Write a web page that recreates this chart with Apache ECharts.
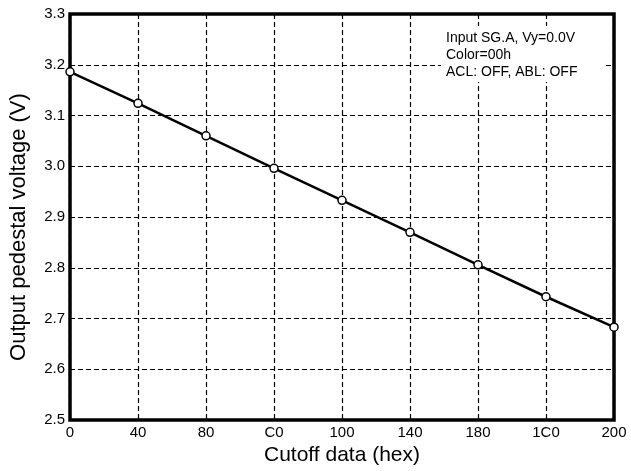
<!DOCTYPE html>
<html>
<head>
<meta charset="utf-8">
<script src="https://cdn.jsdelivr.net/npm/echarts@6/dist/echarts.min.js"></script>
<style>
  html, body { margin: 0; padding: 0; background: #fff; }
  #main { width: 631px; height: 471px; }
</style>
</head>
<body>
<div id="main"></div>
<script>
// cutoff data (hex) and measured pedestal voltage
var cutoffCodes = ['0', '40', '80', 'C0', '100', '140', '180', '1C0', '200'];
var pedestalVolts = [3.186, 3.124, 3.060, 2.996, 2.933, 2.870, 2.806, 2.743, 2.683];
var noteLines = ['Input SG.A, Vy=0.0V', 'Color=00h', 'ACL: OFF, ABL: OFF'];

var myChart = echarts.init(document.getElementById('main'));
var font = 'Liberation Sans, Arial, sans-serif';
var gridDash = { color: '#000', width: 1.2, type: [5, 3] };

var option = {
  animation: false,
  backgroundColor: '#fff',
  grid: {
    left: 70, right: 17, top: 14, bottom: 48,
    show: true,
    borderColor: '#000',
    borderWidth: 3.5,
    backgroundColor: 'transparent'
  },
  xAxis: {
    type: 'category',
    data: cutoffCodes,
    boundaryGap: false,
    name: 'Cutoff data (hex)',
    nameLocation: 'middle',
    nameGap: 23,
    nameTextStyle: { color: '#000', fontSize: 21, fontFamily: font },
    axisLine: { show: false },
    axisTick: { show: false },
    axisLabel: { color: '#000', fontSize: 15, fontFamily: font, margin: 5 },
    splitLine: { show: true, lineStyle: gridDash }
  },
  yAxis: {
    type: 'value',
    min: 2.5,
    max: 3.3,
    interval: 0.1,
    name: 'Output pedestal voltage (V)',
    nameLocation: 'middle',
    nameGap: 40,
    nameTextStyle: { color: '#000', fontSize: 22, fontFamily: font, padding: [0, 20, 0, 0] },
    axisLine: { show: false },
    axisTick: { show: false },
    axisLabel: {
      color: '#000', fontSize: 15, fontFamily: font, margin: 5,
      formatter: function (v) { return v.toFixed(1); }
    },
    splitLine: { show: true, lineStyle: gridDash }
  },
  graphic: [
    {
      type: 'rect',
      left: 441, top: 26, z: 10,
      shape: { width: 164, height: 56 },
      style: { fill: '#fff' }
    },
    {
      type: 'text',
      left: 446, top: 30, z: 11,
      style: {
        text: noteLines.join('\n'),
        fill: '#000',
        font: '14px ' + font,
        lineHeight: 17
      }
    }
  ],
  series: [
    {
      type: 'line',
      data: pedestalVolts,
      symbol: 'circle',
      symbolSize: 8,
      z: 5,
      lineStyle: { color: '#000', width: 2.5 },
      itemStyle: { color: '#fff', borderColor: '#000', borderWidth: 1.5 }
    }
  ]
};

myChart.setOption(option);
</script>
</body>
</html>
